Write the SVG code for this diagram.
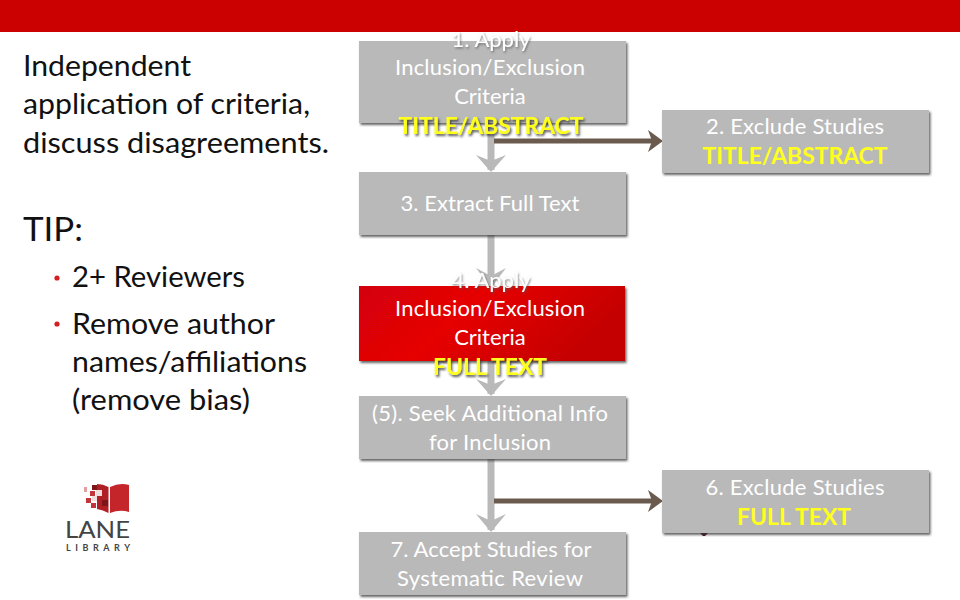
<svg xmlns="http://www.w3.org/2000/svg" width="960" height="600" viewBox="0 0 960 600">
<defs>
<filter id="sh" x="-5%" y="-10%" width="110%" height="125%"><feDropShadow dx="1.5" dy="2" stdDeviation="1" flood-color="#333" flood-opacity="0.75"/></filter>
<filter id="ts" x="-10%" y="-30%" width="120%" height="170%"><feDropShadow dx="1.5" dy="2" stdDeviation="1.2" flood-color="#333" flood-opacity="0.8"/></filter>
<filter id="tw" x="-10%" y="-30%" width="120%" height="170%"><feDropShadow dx="1" dy="1.5" stdDeviation="1" flood-color="#555" flood-opacity="0.7"/></filter>
<linearGradient id="red" x1="0" y1="0" x2="1" y2="0.3"><stop offset="0" stop-color="#d40008"/><stop offset="0.45" stop-color="#e60005"/><stop offset="1" stop-color="#c40000"/></linearGradient>
</defs>
<style>
text{font-family:"Lato","Open Sans","Liberation Sans",sans-serif}
.box{fill:#b9b9b9;filter:url(#sh)}
.t{fill:#fff;font-size:22px;text-anchor:middle}
.y{fill:#ffff1e;font-size:22px;font-weight:700;text-anchor:middle}
.ys{filter:url(#ts)}
.tw{filter:url(#tw)}
.l{fill:#111;font-size:28px}
.g{fill:none;stroke:#b9b9b9;stroke-width:7}
.b{fill:none;stroke:#6b5a4e;stroke-width:5}
.ah{fill:#b9b9b9}
.bh{fill:#6b5a4e}
</style>
<rect x="0" y="0" width="960" height="32" fill="#cb0000"/>
<g id="left-text">
<text class="l" x="23" y="76" textLength="168" lengthAdjust="spacingAndGlyphs">Independent</text>
<text class="l" x="23" y="114" textLength="287" lengthAdjust="spacingAndGlyphs">application of criteria,</text>
<text class="l" x="23" y="153" textLength="306" lengthAdjust="spacingAndGlyphs">discuss disagreements.</text>
<text x="23" y="241" style="fill:#111;font-size:32px" textLength="60" lengthAdjust="spacingAndGlyphs">TIP:</text>
<circle cx="57" cy="278" r="2.6" fill="#d02020"/>
<text class="l" x="72" y="287" textLength="173" lengthAdjust="spacingAndGlyphs">2+ Reviewers</text>
<circle cx="57" cy="324" r="2.6" fill="#d02020"/>
<text class="l" x="72" y="334" textLength="203" lengthAdjust="spacingAndGlyphs">Remove author</text>
<text class="l" x="72" y="372" textLength="235" lengthAdjust="spacingAndGlyphs">names/affiliations</text>
<text class="l" x="72" y="410" textLength="178" lengthAdjust="spacingAndGlyphs">(remove bias)</text>
</g>
<g id="logo">
<path d="M110 487 Q120 482 129 485 L129 512 Q120 509 110 513 Z" fill="#c4252b"/>
<path d="M108.500 487 Q103 484 97 484 L97 509 Q103 510 108.500 513 Z" fill="#b01f25"/>
<path d="M97 490h5v5h-5zM92 485h5v5h-5zM102 500h6v6h-6z" fill="#7e1518"/>
<path d="M96 490h6v6h-6zM92 496h5v5h-5z" fill="#f3dcdc"/>
<path d="M90 491h5v5h-5zM86 498h5v5h-5zM91 503h5v5h-5z" fill="#c4353a"/>
<rect x="84" y="487" width="3" height="5" fill="#e0a0a2"/>
<text x="65" y="537.500" style="fill:#444;font-size:23px;font-weight:400" textLength="65" lengthAdjust="spacingAndGlyphs">LANE</text>
<text x="66" y="551" style="fill:#444;font-size:9px;font-weight:700" textLength="64">LIBRARY</text>
</g>
<g id="connectors">
<path class="g" d="M491 123V170"/><path class="ah" d="M491 172L476 155L491 161L506 155Z"/>
<path class="g" d="M491 235V286"/><path class="ah" d="M491 288L476 268L491 276L506 268Z"/>
<path class="g" d="M491 361V394"/><path class="ah" d="M491 396L476 379L491 385L506 379Z"/>
<path class="g" d="M491 459V530"/><path class="ah" d="M491 532L476 514L491 521L506 514Z"/>
<path class="b" d="M494 141H658"/><path class="bh" d="M663 141L648 130L652 141L648 152Z"/>
<path class="b" d="M494 501H658"/><path class="bh" d="M663 501L648 490L652 501L648 512Z"/>
</g>
<path d="M700 533h8l-3 3h-2z" fill="#4a1020"/>
<g id="n1"><rect class="box" x="359" y="41" width="267" height="82"/>
<text class="t tw" x="491" y="47">1. Apply</text><text class="t" x="490" y="75" textLength="190">Inclusion/Exclusion</text><text class="t" x="490" y="104">Criteria</text>
<text class="y ys" x="491" y="134" textLength="185" lengthAdjust="spacingAndGlyphs">TITLE/ABSTRACT</text></g>
<g id="n2"><rect class="box" x="662" y="110" width="267" height="63"/>
<text class="t" x="795" y="134" textLength="178">2. Exclude Studies</text>
<text class="y" x="795" y="164" textLength="185" lengthAdjust="spacingAndGlyphs">TITLE/ABSTRACT</text></g>
<g id="n3"><rect class="box" x="359" y="172" width="267" height="63"/>
<text class="t" x="490" y="211" textLength="179">3. Extract Full Text</text></g>
<g id="n4"><rect x="359" y="286" width="266" height="75" fill="url(#red)" filter="url(#sh)"/>
<text class="t tw" x="491" y="288">4. Apply</text><text class="t" x="490" y="316" textLength="190">Inclusion/Exclusion</text><text class="t" x="490" y="345">Criteria</text>
<text class="y ys" x="490" y="375" textLength="114" lengthAdjust="spacingAndGlyphs">FULL TEXT</text></g>
<g id="n5"><rect class="box" x="359" y="396" width="267" height="63"/>
<text class="t" x="490" y="421" textLength="236">(5). Seek Additional Info</text><text class="t" x="490" y="450" textLength="122">for Inclusion</text></g>
<g id="n6"><rect class="box" x="662" y="470" width="267" height="63"/>
<text class="t" x="795" y="495" textLength="179">6. Exclude Studies</text>
<text class="y" x="794" y="525" textLength="114" lengthAdjust="spacingAndGlyphs">FULL TEXT</text></g>
<g id="n7"><rect class="box" x="359" y="532" width="267" height="63"/>
<text class="t" x="491" y="557" textLength="201">7. Accept Studies for</text><text class="t" x="490" y="586" textLength="186">Systematic Review</text></g>
</svg>
